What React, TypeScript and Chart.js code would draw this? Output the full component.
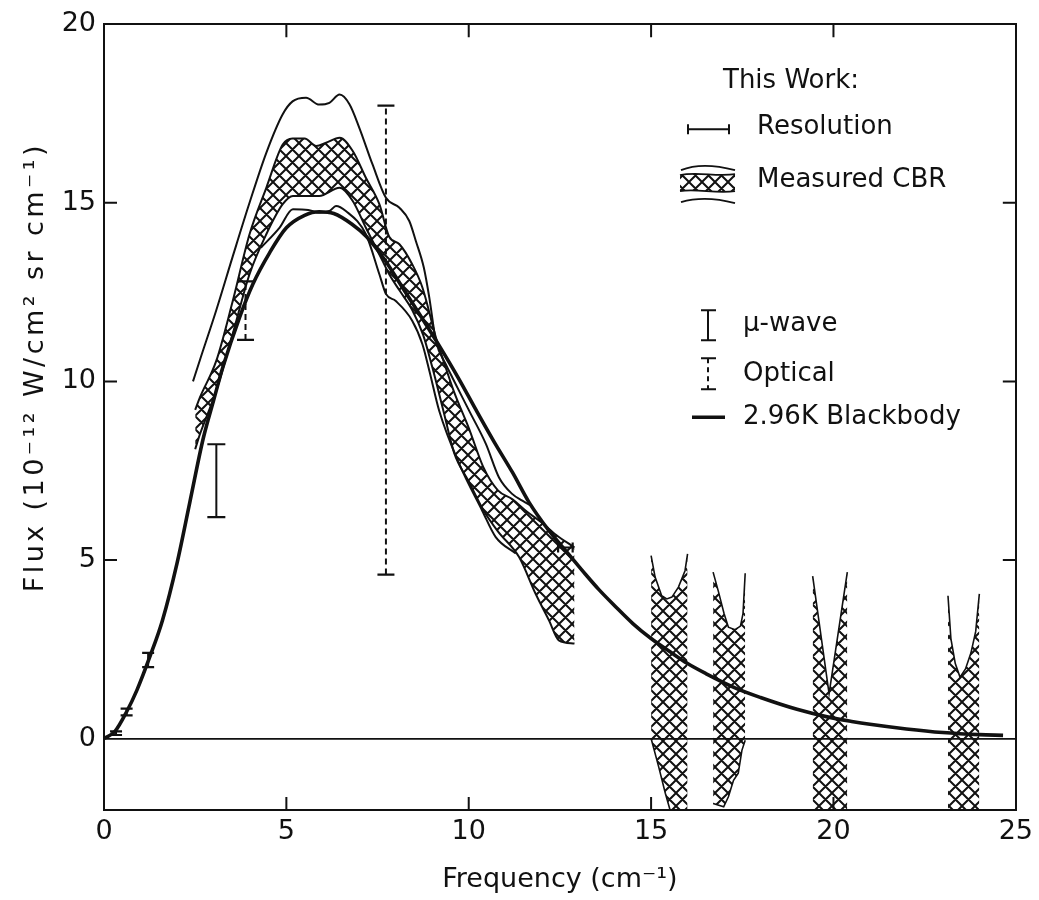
import React, { useEffect, useRef } from 'react';
import { Chart, registerables } from 'chart.js';

Chart.register(...registerables);

// ---------- axes ----------
const X_MIN = 0;
const X_MAX = 25;
const Y_MIN = -2;
const Y_MAX = 20;
const xTicks = [0, 5, 10, 15, 20, 25];
const yTicks = [0, 5, 10, 15, 20];
const X_TITLE = 'Frequency (cm\u207B\u00B9)';
const Y_TITLE = 'Flux (10\u207B\u00B9\u00B2 W/cm\u00B2 sr cm\u207B\u00B9)';

// ---------- 2.96 K blackbody ----------
const blackbodyX = [0, 0.3, 0.62, 0.9, 1.26, 1.6, 2.0, 2.35, 2.72, 3.0, 3.26, 3.72, 4.08, 4.54, 5.0, 5.5, 5.9, 6.3, 6.8, 7.2, 7.7, 8.2, 8.7, 9.19, 9.74, 10.2, 10.7, 11.2, 11.65, 12.2, 12.75, 13.2, 13.57, 14.0, 14.5, 15.0, 15.56, 16.0, 16.5, 17.3, 18.0, 19.0, 19.86, 20.5, 21.0, 22.0, 23.0, 24.0, 24.65];
const blackbodyY = [0, 0.2, 0.75, 1.35, 2.3, 3.3, 4.9, 6.6, 8.4, 9.45, 10.4, 11.8, 12.72, 13.6, 14.3, 14.65, 14.75, 14.7, 14.4, 14.05, 13.4, 12.6, 11.8, 11.0, 10.05, 9.2, 8.3, 7.45, 6.62, 5.82, 5.15, 4.6, 4.17, 3.72, 3.22, 2.8, 2.4, 2.1, 1.82, 1.42, 1.15, 0.82, 0.6, 0.48, 0.4, 0.27, 0.17, 0.11, 0.09];

// ---------- measured CBR: outer envelope lines ----------
const envUpX = [2.44, 2.63, 3.08, 3.53, 3.99, 4.45, 4.9, 5.17, 5.54, 5.9, 6.18, 6.46, 6.73, 7.0, 7.36, 7.73, 8.1, 8.37, 8.55, 8.77, 8.92, 9.1, 9.37, 9.55, 10.01, 10.47, 10.83, 11.19, 11.47, 11.75];
const envUpY = [10.0, 10.6, 12.0, 13.5, 15.0, 16.4, 17.48, 17.84, 17.94, 17.75, 17.8, 18.03, 17.76, 17.1, 16.08, 15.14, 14.86, 14.49, 13.93, 13.18, 12.34, 11.14, 10.48, 10.11, 9.18, 8.25, 7.31, 6.85, 6.66, 6.5];
const envLoX = [4.3, 4.81, 5.18, 5.6, 5.9, 6.2, 6.36, 6.63, 7.18, 7.55, 7.73, 8.0, 8.45, 8.73, 8.92, 9.19, 9.74, 10.37, 10.74, 11.29];
const envLoY = [13.74, 14.3, 14.82, 14.8, 14.72, 14.78, 14.91, 14.77, 14.12, 13.0, 12.45, 12.25, 11.7, 11.04, 10.3, 9.18, 7.69, 6.38, 5.64, 5.18];

// ---------- measured CBR: hatched band ----------
const bandUpX = [2.5, 2.63, 3.08, 3.53, 3.99, 4.45, 4.9, 5.17, 5.5, 5.82, 6.09, 6.46, 6.82, 7.18, 7.55, 7.82, 8.1, 8.45, 8.73, 9.1, 9.3, 9.6, 10.0, 10.4, 10.8, 11.2, 11.6, 12.0, 12.4, 12.9];
const bandUpY = [9.2, 9.55, 10.58, 12.25, 14.12, 15.42, 16.63, 16.8, 16.8, 16.59, 16.68, 16.82, 16.45, 15.7, 14.96, 14.05, 13.84, 13.28, 12.63, 11.23, 10.6, 9.7, 8.7, 7.6, 6.95, 6.7, 6.35, 6.05, 5.7, 5.35];
const bandLoX = [2.5, 2.63, 3.08, 3.53, 3.99, 4.45, 4.9, 5.18, 5.9, 6.46, 6.82, 7.18, 7.64, 7.82, 8.1, 8.45, 8.75, 9.0, 9.3, 9.6, 10.0, 10.4, 10.8, 11.38, 11.83, 12.2, 12.47, 12.9];
const bandLoY = [8.1, 8.52, 9.74, 11.33, 13.0, 14.12, 14.96, 15.19, 15.19, 15.42, 15.05, 14.3, 13.37, 13.0, 12.55, 12.0, 11.3, 10.4, 9.2, 8.0, 7.2, 6.4, 5.8, 5.08, 4.06, 3.31, 2.75, 2.66];

// ---------- measured CBR: high-frequency patches ----------
const patch1TopX = [15.0, 15.11, 15.29, 15.43, 15.57, 15.75, 15.93, 16.0];
const patch1TopY = [5.12, 4.52, 4.0, 3.91, 3.96, 4.24, 4.7, 5.17];
const patch1BotX = [15.0, 15.21, 15.39, 15.52, 16.0];
const patch1BotY = [0.0, -0.8, -1.53, -2.0, -2.0];
const patch2TopX = [16.7, 16.85, 17.0, 17.12, 17.3, 17.45, 17.52, 17.58];
const patch2TopY = [4.66, 4.1, 3.5, 3.12, 3.05, 3.15, 3.5, 4.63];
const patch2BotX = [16.7, 16.99, 17.12, 17.26, 17.39, 17.49, 17.58];
const patch2BotY = [-1.82, -1.91, -1.63, -1.17, -0.97, -0.33, -0.05];
const patch3TopX = [19.43, 19.88, 20.38];
const patch3TopY = [4.55, 1.26, 4.66];
const patch4TopX = [23.14, 23.22, 23.34, 23.47, 23.62, 23.77, 23.9, 24.0];
const patch4TopY = [4.0, 2.8, 2.1, 1.72, 1.95, 2.4, 3.0, 4.05];

// ---------- error bars ----------
const muwaveX = [0.33, 0.62, 1.21, 3.08];
const muwaveLo = [0.1, 0.65, 2.0, 6.2];
const muwaveHi = [0.2, 0.84, 2.4, 8.24];
const opticalX = [3.88, 7.73];
const opticalLo = [11.16, 4.59];
const opticalHi = [12.8, 17.72];
const resolutionX = [12.45, 12.85];
const resolutionY = [5.35, 5.35];

// ---------- style ----------
const INK = '#111111';
const FONT = '"DejaVu Sans", sans-serif';

const pts = (xs: number[], ys: number[]) => xs.map((x, i) => ({ x, y: ys[i] }));

function makeHatch(): any {
  const s = 13;
  const c = document.createElement('canvas');
  c.width = s;
  c.height = s;
  const g = c.getContext('2d')!;
  g.strokeStyle = INK;
  g.lineWidth = 2;
  g.beginPath();
  for (const dx of [-s, 0, s]) {
    for (const dy of [-s, 0, s]) {
      g.moveTo(dx, dy);
      g.lineTo(dx + s, dy + s);
      g.moveTo(dx + s, dy);
      g.lineTo(dx, dy + s);
    }
  }
  g.stroke();
  return g.createPattern(c, 'repeat');
}

const lineDs = (data: any[], width: number, extra: any = {}) => ({
  data,
  borderColor: INK,
  backgroundColor: 'rgba(0,0,0,0)',
  borderWidth: width,
  pointRadius: 0,
  fill: false,
  ...extra,
});

const barDs = (x: number, lo: number, hi: number, cap: number, dashed: boolean) => ({
  data: [{ x, y: lo }, { x, y: hi }],
  borderColor: INK,
  backgroundColor: INK,
  borderWidth: 2,
  borderDash: dashed ? [6, 4] : [],
  pointStyle: 'line',
  pointRadius: cap,
  pointBorderWidth: 2.2,
  pointBorderColor: INK,
  fill: false,
});

const frameTicks = {
  id: 'frameTicks',
  afterDraw(chart: any) {
    const { ctx, chartArea: a, scales } = chart;
    const L = 13;
    ctx.save();
    ctx.strokeStyle = INK;
    ctx.lineWidth = 2;
    ctx.beginPath();
    for (const v of xTicks) {
      if (v <= X_MIN || v >= X_MAX) continue;
      const px = scales.x.getPixelForValue(v);
      ctx.moveTo(px, a.bottom);
      ctx.lineTo(px, a.bottom - L);
      ctx.moveTo(px, a.top);
      ctx.lineTo(px, a.top + L);
    }
    for (const v of yTicks) {
      if (v <= 0 || v >= Y_MAX) continue;
      const py = scales.y.getPixelForValue(v);
      ctx.moveTo(a.left, py);
      ctx.lineTo(a.left + L, py);
      ctx.moveTo(a.right, py);
      ctx.lineTo(a.right - L, py);
    }
    ctx.stroke();
    ctx.restore();
  },
};

const yTitlePlugin = {
  id: 'yTitle',
  afterDraw(chart: any) {
    const { ctx, chartArea: a } = chart;
    ctx.save();
    ctx.translate(a.left - 61, a.top + 343);
    ctx.rotate(-Math.PI / 2);
    ctx.font = `27px ${FONT}`;
    ctx.fillStyle = INK;
    ctx.textAlign = 'center';
    ctx.textBaseline = 'alphabetic';
    const w = ctx.measureText(Y_TITLE).width;
    (ctx as any).letterSpacing = `${Math.max(0, (450 - w) / Y_TITLE.length).toFixed(2)}px`;
    ctx.fillText(Y_TITLE, 0, 0);
    ctx.restore();
  },
};

function makeLegendPlugin(hatch: any) {
  return {
    id: 'cbrLegend',
    afterDraw(chart: any) {
      const { ctx, chartArea: a } = chart;
      const X = (v: number) => a.left + v;
      const Y = (v: number) => a.top + v;
      ctx.save();
      ctx.fillStyle = INK;
      ctx.strokeStyle = INK;
      ctx.font = `26px ${FONT}`;
      ctx.textBaseline = 'middle';
      ctx.textAlign = 'left';

      ctx.fillText('This Work:', X(619), Y(57));

      // Resolution
      ctx.lineWidth = 2;
      ctx.beginPath();
      ctx.moveTo(X(584), Y(105));
      ctx.lineTo(X(625), Y(105));
      ctx.moveTo(X(584), Y(100));
      ctx.lineTo(X(584), Y(110));
      ctx.moveTo(X(625), Y(100));
      ctx.lineTo(X(625), Y(110));
      ctx.stroke();
      ctx.fillText('Resolution', X(653), Y(103));

      // Measured CBR
      ctx.lineWidth = 1.8;
      ctx.beginPath();
      ctx.moveTo(X(577), Y(146));
      ctx.bezierCurveTo(X(594), Y(139), X(612), Y(141), X(631), Y(146));
      ctx.stroke();
      ctx.beginPath();
      ctx.moveTo(X(576), Y(151));
      ctx.bezierCurveTo(X(593), Y(147), X(612), Y(153), X(631), Y(150));
      ctx.lineTo(X(631), Y(167));
      ctx.bezierCurveTo(X(612), Y(170), X(593), Y(164), X(576), Y(167));
      ctx.closePath();
      ctx.fillStyle = hatch;
      ctx.fill();
      ctx.beginPath();
      ctx.moveTo(X(576), Y(151));
      ctx.bezierCurveTo(X(593), Y(147), X(612), Y(153), X(631), Y(150));
      ctx.moveTo(X(631), Y(167));
      ctx.bezierCurveTo(X(612), Y(170), X(593), Y(164), X(576), Y(167));
      ctx.stroke();
      ctx.beginPath();
      ctx.moveTo(X(577), Y(178));
      ctx.bezierCurveTo(X(594), Y(173), X(612), Y(174), X(631), Y(179));
      ctx.stroke();
      ctx.fillStyle = INK;
      ctx.fillText('Measured CBR', X(653), Y(156));

      // mu-wave
      ctx.lineWidth = 2;
      ctx.beginPath();
      ctx.moveTo(X(604), Y(286));
      ctx.lineTo(X(604), Y(316));
      ctx.moveTo(X(597), Y(286));
      ctx.lineTo(X(612), Y(286));
      ctx.moveTo(X(597), Y(316));
      ctx.lineTo(X(612), Y(316));
      ctx.stroke();
      ctx.fillText('\u03BC-wave', X(639), Y(300));

      // Optical
      ctx.beginPath();
      ctx.moveTo(X(597), Y(334));
      ctx.lineTo(X(612), Y(334));
      ctx.moveTo(X(597), Y(365));
      ctx.lineTo(X(612), Y(365));
      ctx.stroke();
      ctx.setLineDash([5, 4]);
      ctx.beginPath();
      ctx.moveTo(X(604), Y(334));
      ctx.lineTo(X(604), Y(365));
      ctx.stroke();
      ctx.setLineDash([]);
      ctx.fillText('Optical', X(639), Y(350));

      // Blackbody
      ctx.lineWidth = 3.5;
      ctx.beginPath();
      ctx.moveTo(X(588), Y(393));
      ctx.lineTo(X(621), Y(393));
      ctx.stroke();
      ctx.fillText('2.96K Blackbody', X(639), Y(393));
      ctx.restore();
    },
  };
}

export default function App() {
  const ref = useRef<HTMLCanvasElement | null>(null);

  useEffect(() => {
    if (!ref.current) return;
    const hatch = makeHatch();

    const datasets: any[] = [
      lineDs(pts(blackbodyX, blackbodyY), 3.6, { cubicInterpolationMode: 'monotone' }),
      lineDs(pts(envUpX, envUpY), 2, { cubicInterpolationMode: 'monotone' }),
      lineDs(pts(envLoX, envLoY), 2, { cubicInterpolationMode: 'monotone' }),
      lineDs(pts(bandUpX, bandUpY), 2, { cubicInterpolationMode: 'monotone', fill: '+1', backgroundColor: hatch }),
      lineDs(pts(bandLoX, bandLoY), 2, { cubicInterpolationMode: 'monotone' }),
      lineDs(pts(patch1TopX, patch1TopY), 1.6, { fill: '+1', backgroundColor: hatch }),
      lineDs(pts(patch1BotX, patch1BotY), 1.6),
      lineDs(pts(patch2TopX, patch2TopY), 1.6, { fill: '+1', backgroundColor: hatch }),
      lineDs(pts(patch2BotX, patch2BotY), 1.6),
      lineDs(pts(patch3TopX, patch3TopY), 1.6, { fill: { value: Y_MIN }, backgroundColor: hatch }),
      lineDs(pts(patch4TopX, patch4TopY), 1.6, { fill: { value: Y_MIN }, backgroundColor: hatch }),
      ...muwaveX.map((x, i) => barDs(x, muwaveLo[i], muwaveHi[i], x > 2 ? 9 : 6, false)),
      ...opticalX.map((x, i) => barDs(x, opticalLo[i], opticalHi[i], 8.5, true)),
      {
        ...barDs(resolutionX[0], resolutionY[0], resolutionY[0], 5, false),
        data: pts(resolutionX, resolutionY),
        pointRotation: 90,
      },
    ];

    const tickFont = { family: FONT, size: 27 };

    const chart = new Chart(ref.current, {
      type: 'line',
      data: { datasets },
      options: {
        animation: false,
        responsive: false,
        events: [],
        layout: { padding: 0 },
        plugins: {
          legend: { display: false },
          tooltip: { enabled: false },
          colors: { enabled: false },
        } as any,
        scales: {
          x: {
            type: 'linear',
            position: 'bottom',
            min: X_MIN,
            max: X_MAX,
            afterBuildTicks: (ax: any) => { ax.ticks = xTicks.map((v) => ({ value: v })); },
            afterFit: (ax: any) => { ax.height = 90; },
            ticks: { font: tickFont, color: INK, padding: 6, maxRotation: 0, autoSkip: false },
            grid: { display: false, drawTicks: false },
            border: { display: true, color: INK, width: 2 },
            title: {
              display: true,
              text: X_TITLE,
              font: { family: FONT, size: 27 },
              color: INK,
              padding: { top: 0, bottom: 4 },
            },
          },
          xTop: {
            type: 'linear',
            position: 'top',
            min: X_MIN,
            max: X_MAX,
            afterFit: (ax: any) => { ax.height = 22; },
            ticks: { display: false },
            grid: { display: false, drawTicks: false },
            border: { display: true, color: INK, width: 2 },
          },
          y: {
            type: 'linear',
            position: 'left',
            min: Y_MIN,
            max: Y_MAX,
            afterBuildTicks: (ax: any) => { ax.ticks = yTicks.map((v) => ({ value: v })); },
            afterFit: (ax: any) => { ax.width = 104; },
            ticks: { font: tickFont, color: INK, padding: 8 },
            grid: {
              display: true,
              drawTicks: false,
              drawOnChartArea: true,
              lineWidth: 1.8,
              color: (c: any) => (c.tick && c.tick.value === 0 ? INK : 'rgba(0,0,0,0)'),
            },
            border: { display: true, color: INK, width: 2 },
          },
          yRight: {
            type: 'linear',
            position: 'right',
            min: Y_MIN,
            max: Y_MAX,
            afterFit: (ax: any) => { ax.width = 21; },
            ticks: { display: false },
            grid: { display: false, drawTicks: false },
            border: { display: true, color: INK, width: 2 },
          },
        } as any,
      },
      plugins: [frameTicks, yTitlePlugin, makeLegendPlugin(hatch)],
    } as any);

    return () => chart.destroy();
  }, []);

  return (
    <div style={{ position: 'absolute', left: 0, top: 0, width: 1039, height: 900, background: '#fff' }}>
      <canvas ref={ref} width={1039} height={900} style={{ display: 'block', width: 1039, height: 900 }} />
    </div>
  );
}
